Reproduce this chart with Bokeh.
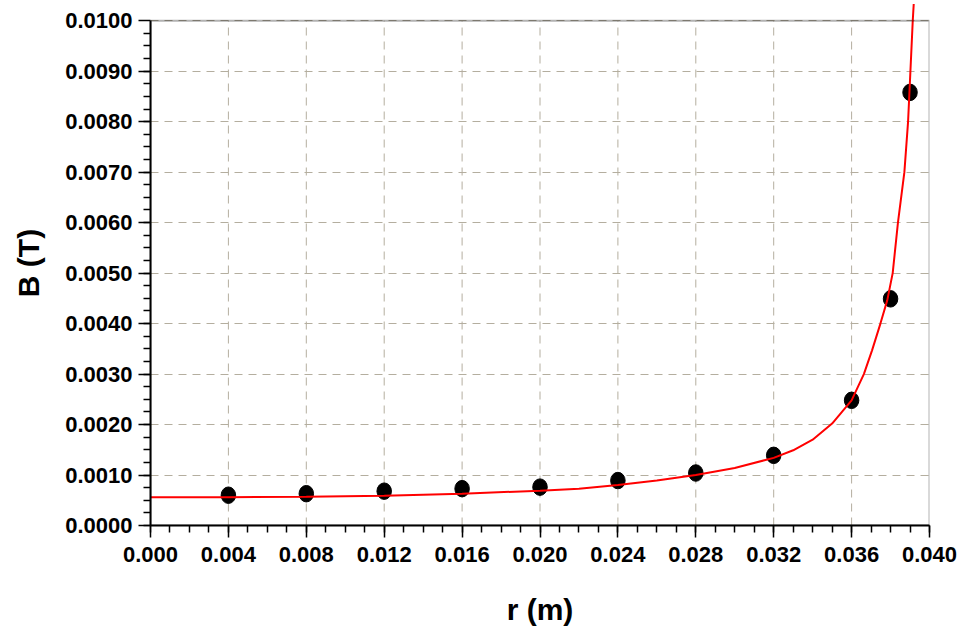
from bokeh.plotting import figure
from bokeh.models import Range1d, FixedTicker, PrintfTickFormatter, BoxAnnotation
from bokeh.embed import file_html
from bokeh.resources import INLINE

# measured data points
r_data = [0.004, 0.008, 0.012, 0.016, 0.020, 0.024, 0.028, 0.032, 0.036, 0.038, 0.039]
B_data = [0.00060, 0.00063, 0.00068, 0.00073, 0.00076, 0.00089, 0.00104, 0.00139, 0.00248, 0.00449, 0.00858]

# fitted curve
r_fit = [0.000, 0.004, 0.008, 0.012, 0.016, 0.020, 0.022, 0.024, 0.026, 0.028, 0.030,
         0.032, 0.033, 0.034, 0.035, 0.036, 0.03663, 0.03705, 0.03748, 0.03783, 0.03811,
         0.03838, 0.03871, 0.0389, 0.03902, 0.03914, 0.03919]
B_fit = [0.00056, 0.00056, 0.00057, 0.00059, 0.00063, 0.00069, 0.00073, 0.00080, 0.00089,
         0.00100, 0.00114, 0.00134, 0.00149, 0.00170, 0.00202, 0.00248, 0.00300, 0.00347,
         0.00400, 0.00446, 0.00500, 0.00600, 0.00700, 0.00800, 0.00900, 0.01000, 0.01033]

x_ticks = [0.000, 0.004, 0.008, 0.012, 0.016, 0.020, 0.024, 0.028, 0.032, 0.036, 0.040]
y_ticks = [0.0000, 0.0010, 0.0020, 0.0030, 0.0040, 0.0050, 0.0060, 0.0070, 0.0080, 0.0090, 0.0100]

x_minor = [i * 0.001 for i in range(41)]
y_minor = [i * 0.00025 for i in range(40)]

FONT = "Liberation Sans"
GRID_COLOR = "#b4ae9f"
GRID_DASH = "8 6"

p = figure(width=959, height=635, output_backend="svg", toolbar_location=None,
           x_range=Range1d(x_ticks[0], x_ticks[-1]),
           y_range=Range1d(0, 0.0104),
           min_border_left=150, min_border_right=30, min_border_top=0, min_border_bottom=110)
p.background_fill_color = "white"
p.border_fill_color = "white"
p.outline_line_color = None

# axes
for ax in (p.xaxis[0], p.yaxis[0]):
    ax.axis_line_width = 2
    ax.axis_line_color = "black"
    ax.major_tick_line_width = 1.5
    ax.minor_tick_line_width = 1.5
    ax.major_tick_in = 0
    ax.minor_tick_in = 0
    ax.major_tick_out = 12
    ax.minor_tick_out = 7
    ax.major_label_text_font = FONT
    ax.major_label_text_font_style = "bold"
    ax.major_label_text_font_size = "22px"
    ax.major_label_text_color = "black"
    ax.axis_label_text_font = FONT
    ax.axis_label_text_font_style = "bold"
    ax.axis_label_text_font_size = "30px"
    ax.axis_label_text_color = "black"

p.xaxis.ticker = FixedTicker(ticks=x_ticks, minor_ticks=x_minor)
p.yaxis.ticker = FixedTicker(ticks=y_ticks, minor_ticks=y_minor)
p.xaxis.formatter = PrintfTickFormatter(format="%.3f")
p.yaxis.formatter = PrintfTickFormatter(format="%.4f")
p.yaxis.bounds = (y_ticks[0], y_ticks[-1])
p.xaxis.major_label_standoff = 9
p.yaxis.major_label_standoff = 6
p.xaxis.axis_label = "r (m)"
p.yaxis.axis_label = "B (T)"
p.xaxis.axis_label_standoff = 28
p.yaxis.axis_label_standoff = 17

# grid
p.xgrid.visible = False
p.ygrid.grid_line_color = GRID_COLOR
p.ygrid.grid_line_dash = GRID_DASH
p.ygrid.grid_line_width = 1

inner_x = x_ticks[1:-1]
p.segment(x0=inner_x, y0=[y_ticks[0]] * len(inner_x), x1=inner_x, y1=[y_ticks[-1]] * len(inner_x),
          line_color=GRID_COLOR, line_dash=GRID_DASH, line_width=1)

# frame box
p.add_layout(BoxAnnotation(left=x_ticks[0], right=x_ticks[-1], bottom=y_ticks[0], top=y_ticks[-1],
                           fill_alpha=0, line_color="black", line_width=2))

# data
p.ellipse(x=r_data, y=B_data, width=14.5, height=16.5, width_units="screen", height_units="screen",
          fill_color="black", line_color="black")
p.line(r_fit, B_fit, line_color="red", line_width=2)

open("out.html", "w").write(file_html(p, INLINE))
